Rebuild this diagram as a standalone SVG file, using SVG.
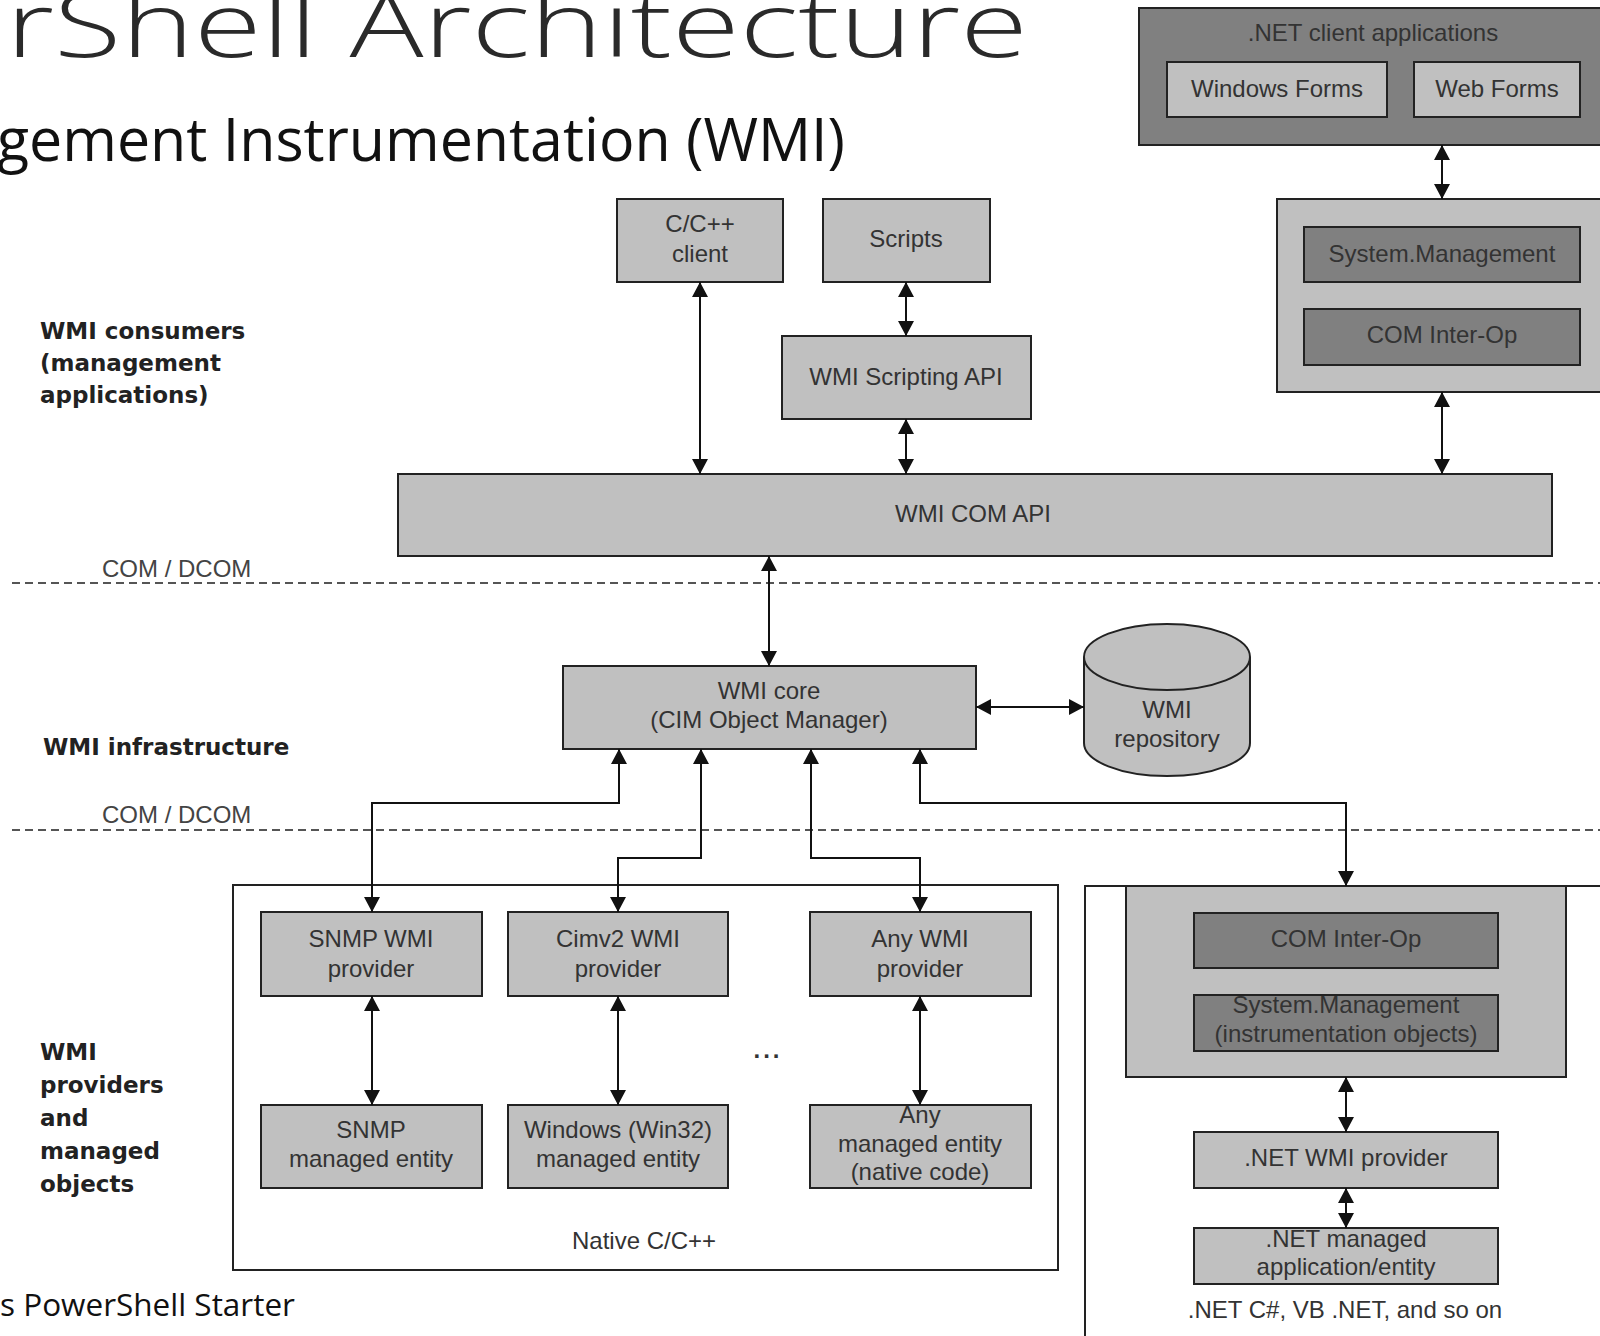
<svg xmlns="http://www.w3.org/2000/svg" width="1600" height="1336" viewBox="0 0 1600 1336">
<style>
.box{fill:#c0c0c0;stroke:#222;stroke-width:2}
.dark{fill:#808080;stroke:#222;stroke-width:2}
.cont{fill:#fff;stroke:#222;stroke-width:2}
.t{font-family:"Liberation Sans",Arial,sans-serif;font-size:24px;fill:#333;text-anchor:middle}
.lbl{font-family:"DejaVu Sans",Verdana,sans-serif;font-weight:bold;font-size:23px;fill:#222}
.com{font-family:"Liberation Sans",Arial,sans-serif;font-size:24px;fill:#444}
.dash{stroke:#555;stroke-width:2;stroke-dasharray:8 5;fill:none}
.c{stroke:#111;stroke-width:2;fill:none;marker-start:url(#a);marker-end:url(#a)}
.title{font-family:"Open Sans","Noto Sans",sans-serif;font-weight:300;fill:#2a2a2a}
</style>
<defs>
<marker id="a" viewBox="0 0 15 16" refX="15" refY="8" markerWidth="15" markerHeight="16" markerUnits="userSpaceOnUse" orient="auto-start-reverse">
<path d="M0,0 L15,8 L0,16 z" fill="#111"/>
</marker>
</defs>
<rect width="1600" height="1336" fill="#fff"/>

<g id="titles">
<text class="title" x="6" y="57" font-size="90" textLength="1022" lengthAdjust="spacingAndGlyphs">rShell Architecture</text>
<text class="title" x="-3" y="161" font-size="61" textLength="848" lengthAdjust="spacingAndGlyphs" style="font-weight:400;fill:#111">gement Instrumentation (WMI)</text>
<text class="title" x="0" y="1316" font-size="31" textLength="295" lengthAdjust="spacingAndGlyphs" style="font-weight:400;fill:#111">s PowerShell Starter</text>
</g>

<g id="layer-labels">
<text class="lbl" x="40" y="339">WMI consumers</text>
<text class="lbl" x="40" y="371">(management</text>
<text class="lbl" x="40" y="403">applications)</text>
<text class="lbl" x="43" y="755">WMI infrastructure</text>
<text class="lbl" x="40" y="1060">WMI</text>
<text class="lbl" x="40" y="1093">providers</text>
<text class="lbl" x="40" y="1126">and</text>
<text class="lbl" x="40" y="1159">managed</text>
<text class="lbl" x="40" y="1192">objects</text>
</g>

<g id="boundaries">
<line class="dash" x1="12" y1="583" x2="1600" y2="583"/>
<text class="com" x="102" y="577">COM / DCOM</text>
<line class="dash" x1="12" y1="830" x2="1600" y2="830"/>
<text class="com" x="102" y="823">COM / DCOM</text>
</g>

<g id="net-client-apps">
<rect class="dark" x="1139" y="8" width="480" height="137"/>
<text class="t" x="1373" y="41">.NET client applications</text>
</g>
<g id="windows-forms">
<rect class="box" x="1167" y="62" width="220" height="55"/>
<text class="t" x="1277" y="97">Windows Forms</text>
</g>
<g id="web-forms">
<rect class="box" x="1414" y="62" width="166" height="55"/>
<text class="t" x="1497" y="97">Web Forms</text>
</g>

<g id="net-client-stack">
<rect class="box" x="1277" y="199" width="340" height="193"/>
</g>
<g id="system-management-top">
<rect class="dark" x="1304" y="227" width="276" height="55"/>
<text class="t" x="1442" y="262">System.Management</text>
</g>
<g id="com-interop-top">
<rect class="dark" x="1304" y="309" width="276" height="56"/>
<text class="t" x="1442" y="343">COM Inter-Op</text>
</g>

<g id="cpp-client">
<rect class="box" x="617" y="199" width="166" height="83"/>
<text class="t" x="700" y="232">C/C++</text>
<text class="t" x="700" y="262">client</text>
</g>
<g id="scripts">
<rect class="box" x="823" y="199" width="167" height="83"/>
<text class="t" x="906" y="247">Scripts</text>
</g>
<g id="wmi-scripting-api">
<rect class="box" x="782" y="336" width="249" height="83"/>
<text class="t" x="906" y="385">WMI Scripting API</text>
</g>
<g id="wmi-com-api">
<rect class="box" x="398" y="474" width="1154" height="82"/>
<text class="t" x="973" y="522">WMI COM API</text>
</g>

<g id="wmi-core">
<rect class="box" x="563" y="666" width="413" height="83"/>
<text class="t" x="769" y="699">WMI core</text>
<text class="t" x="769" y="728">(CIM Object Manager)</text>
</g>
<g id="wmi-repository">
<path class="box" d="M1084,657 L1084,743 A83,33 0 0 0 1250,743 L1250,657 A83,33 0 0 0 1084,657 z"/>
<path class="box" d="M1084,657 A83,33 0 0 0 1250,657" style="fill:none"/>
<text class="t" x="1167" y="718">WMI</text>
<text class="t" x="1167" y="747">repository</text>
</g>

<g id="native-container">
<rect class="cont" x="233" y="885" width="825" height="385"/>
<text class="t" x="644" y="1249">Native C/C++</text>
<text class="t" x="768" y="1058" style="font-weight:bold;letter-spacing:3px;fill:#333">...</text>
</g>
<g id="snmp-provider">
<rect class="box" x="261" y="912" width="221" height="84"/>
<text class="t" x="371" y="947">SNMP WMI</text>
<text class="t" x="371" y="977">provider</text>
</g>
<g id="cimv2-provider">
<rect class="box" x="508" y="912" width="220" height="84"/>
<text class="t" x="618" y="947">Cimv2 WMI</text>
<text class="t" x="618" y="977">provider</text>
</g>
<g id="any-provider">
<rect class="box" x="810" y="912" width="221" height="84"/>
<text class="t" x="920" y="947">Any WMI</text>
<text class="t" x="920" y="977">provider</text>
</g>
<g id="snmp-entity">
<rect class="box" x="261" y="1105" width="221" height="83"/>
<text class="t" x="371" y="1138">SNMP</text>
<text class="t" x="371" y="1167">managed entity</text>
</g>
<g id="win32-entity">
<rect class="box" x="508" y="1105" width="220" height="83"/>
<text class="t" x="618" y="1138">Windows (Win32)</text>
<text class="t" x="618" y="1167">managed entity</text>
</g>
<g id="any-entity">
<rect class="box" x="810" y="1105" width="221" height="83"/>
<text class="t" x="920" y="1123">Any</text>
<text class="t" x="920" y="1152">managed entity</text>
<text class="t" x="920" y="1180">(native code)</text>
</g>

<g id="net-container">
<rect class="cont" x="1085" y="886" width="600" height="600"/>
<text class="t" x="1345" y="1318">.NET C#, VB .NET, and so on</text>
</g>
<g id="net-provider-stack">
<rect class="box" x="1126" y="886" width="440" height="191"/>
</g>
<g id="com-interop-bottom">
<rect class="dark" x="1194" y="913" width="304" height="55"/>
<text class="t" x="1346" y="947">COM Inter-Op</text>
</g>
<g id="system-management-bottom">
<rect class="dark" x="1194" y="995" width="304" height="56"/>
<text class="t" x="1346" y="1013">System.Management</text>
<text class="t" x="1346" y="1042">(instrumentation objects)</text>
</g>
<g id="net-wmi-provider">
<rect class="box" x="1194" y="1132" width="304" height="56"/>
<text class="t" x="1346" y="1166">.NET WMI provider</text>
</g>
<g id="net-managed-app">
<rect class="box" x="1194" y="1228" width="304" height="56"/>
<text class="t" x="1346" y="1247">.NET managed</text>
<text class="t" x="1346" y="1275">application/entity</text>
</g>

<g id="connectors">
<path class="c" d="M1442,145 L1442,199"/>
<path class="c" d="M1442,392 L1442,474"/>
<path class="c" d="M700,282 L700,474"/>
<path class="c" d="M906,282 L906,336"/>
<path class="c" d="M906,419 L906,474"/>
<path class="c" d="M769,556 L769,666"/>
<path class="c" d="M976,707 L1084,707"/>
<path class="c" d="M619,749 L619,803 L372,803 L372,912"/>
<path class="c" d="M701,749 L701,858 L618,858 L618,912"/>
<path class="c" d="M811,749 L811,858 L920,858 L920,912"/>
<path class="c" d="M920,749 L920,803 L1346,803 L1346,886"/>
<path class="c" d="M372,996 L372,1105"/>
<path class="c" d="M618,996 L618,1105"/>
<path class="c" d="M920,996 L920,1105"/>
<path class="c" d="M1346,1077 L1346,1132"/>
<path class="c" d="M1346,1188 L1346,1228"/>
</g>
</svg>
